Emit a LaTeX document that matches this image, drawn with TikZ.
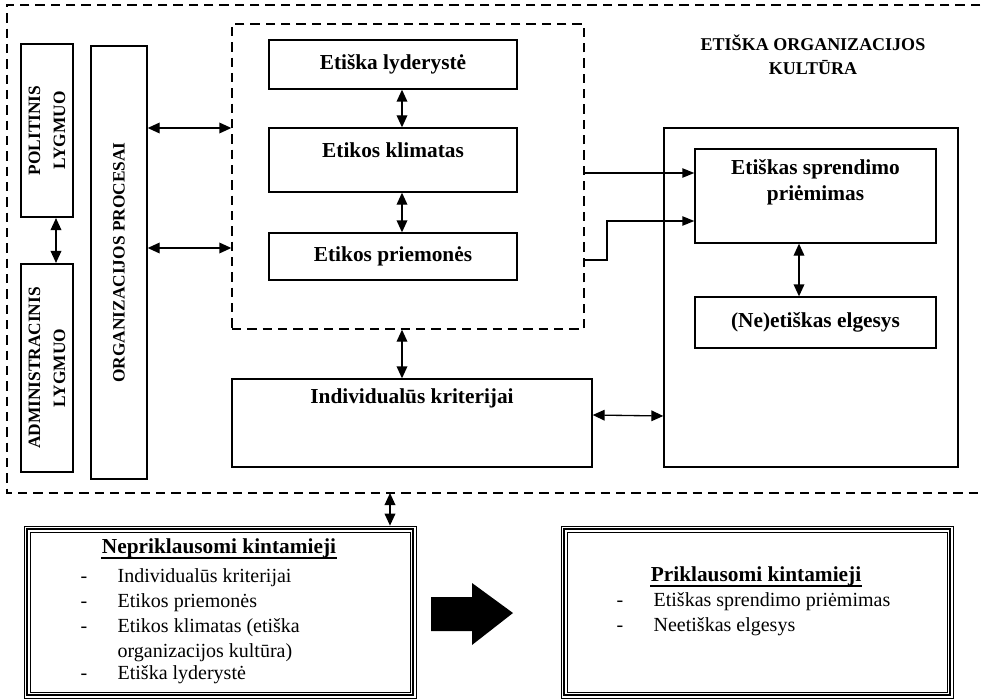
\documentclass[tikz,border=0pt]{standalone}
\usepackage{fontspec}
\setmainfont{Liberation Serif}
\newfontfamily\hdfont{Liberation Serif}
\usetikzlibrary{arrows.meta,fit}

\tikzset{every picture/.style={line width=1pt}}
\tikzset{
  box/.style={draw, inner sep=0pt},
  thickbox/.style={draw, line width=1.6pt, inner sep=0pt},
  dashbox/.style={draw, dash pattern=on 7pt off 4.5pt, inner sep=0pt},
  hd/.style={font=\hdfont\bfseries\fontsize{16}{19.5}\selectfont, align=center, inner sep=0pt},
  caps/.style={font=\hdfont\bfseries\fontsize{13}{18.75}\selectfont, align=center, inner sep=0pt},
  items/.style={font=\fontsize{15}{18.75}\selectfont, align=left, inner sep=0pt, anchor=north west},
  dblarr/.style={{Triangle[length=9pt,width=8pt]}-{Triangle[length=9pt,width=8pt]}},
  onearr/.style={-{Triangle[length=9pt,width=7pt]}},
}

\begin{document}
\begin{tikzpicture}[x=0.75pt,y=0.75pt,yscale=-1,xscale=1]
\useasboundingbox (0,0) rectangle (983,699);

%Outer dashed frame (open on the right)
\draw[dash pattern=on 7pt off 4.5pt] (980,5) -- (7,5) -- (7,493) -- (980,493);
\coordinate (framebot) at (390,493);

%Levels
\node[thickbox, fit={(21,44) (73,217)}] (poli) {};
\node[caps, rotate=90] (politxt) at (poli) {POLITINIS\\LYGMUO};
\node[thickbox, fit={(21,264) (73,472)}] (adm) {};
\node[caps, rotate=90] (admtxt) at (adm) {ADMINISTRACINIS\\LYGMUO};
\node[box, fit={(91,46) (147,479)}] (org) {};
\node[caps, rotate=90] (orgtxt) at (org) {ORGANIZACIJOS PROCESAI};

%Inner dashed group
\node[dashbox, fit={(232,24) (584,329)}] (inner) {};
\node[box, fit={(269,40) (517,89)}] (lyd) {};
\node[hd] (lydtxt) at (lyd) {Etiška lyderystė};
\node[box, fit={(269,128) (517,192)}] (klim) {};
\node[hd] (klimtxt) at (393,150) {Etikos klimatas};
\node[box, fit={(269,233) (517,280)}] (prie) {};
\node[hd] (prietxt) at (prie) {Etikos priemonės};

\node[box, fit={(232,379) (592,467)}] (indiv) {};
\node[hd] (indivtxt) at (412,398) {Individualūs kriterijai};

%Culture
\node[caps, font=\hdfont\bfseries\fontsize{13.5}{18}\selectfont] (title) at (813,55) {ETIŠKA ORGANIZACIJOS\\KULTŪRA};
\node[box, fit={(664,128) (958,467)}] (culture) {};
\node[box, fit={(695,149) (936,243)}] (spr) {};
\node[hd] (sprtxt) at (815.5,182) {Etiškas sprendimo\\priėmimas};
\node[box, fit={(695,297) (936,348)}] (elg) {};
\node[hd] (elgtxt) at (elg) {(Ne)etiškas elgesys};

%Connectors
\draw[dblarr] (poli.south -| 56,0) -- (adm.north -| 56,0);
\draw[dblarr] (org.east |- 0,128) -- (inner.west |- 0,128);
\draw[dblarr] (org.east |- 0,248) -- (inner.west |- 0,248);
\draw[dblarr] (lyd.south -| 402,0) -- (klim.north -| 402,0);
\draw[dblarr] (klim.south -| 402,0) -- (prie.north -| 402,0);
\draw[dblarr] (inner.south -| 402,0) -- (indiv.north -| 402,0);
\draw[onearr] (inner.east |- 0,173) -- (spr.west |- 0,173);
\draw[onearr] (inner.east |- 0,260) -- (607,260) -- (607,221) -- (spr.west |- 0,221);
\draw[dblarr] (spr.south -| 799,0) -- (elg.north -| 799,0);
\draw[dblarr] (indiv.east |- 0,415) -- (culture.west |- 0,416);

%Variables
\node[draw, line width=0.5pt, inner sep=0pt, fit={(24,526) (416,698)}] (indep) {};
\draw[line width=1.5pt] ([shift={(3.5,3.5)}]indep.north west) rectangle ([shift={(-3.5,-3.5)}]indep.south east);
\draw[line width=0.5pt] ([shift={(6.5,6.5)}]indep.north west) rectangle ([shift={(-6.5,-6.5)}]indep.south east);
\node[hd] (indeptitle) at (219,548) {Nepriklausomi kintamieji};
\draw[line width=1.5pt] (indeptitle.south west) -- (indeptitle.south east);
\node[items] (indepitems) at (80,568) {\makebox[27.75pt][l]{-}Individualūs kriterijai\\
  \makebox[27.75pt][l]{-}Etikos priemonės\\
  \makebox[27.75pt][l]{-}Etikos klimatas (etiška\\
  \hspace*{27.75pt}organizacijos kultūra)\\[-2pt]
  \makebox[27.75pt][l]{-}Etiška lyderystė};

\draw[dblarr] (framebot) -- (indep.north -| framebot);

\fill (431,597) -- (472,597) -- (472,583) -- (513,613) -- (472,645) -- (472,631) -- (431,631) -- cycle;

\node[draw, line width=0.5pt, inner sep=0pt, fit={(561,526) (953,698)}] (dep) {};
\draw[line width=1.5pt] ([shift={(3.5,3.5)}]dep.north west) rectangle ([shift={(-3.5,-3.5)}]dep.south east);
\draw[line width=0.5pt] ([shift={(6.5,6.5)}]dep.north west) rectangle ([shift={(-6.5,-6.5)}]dep.south east);
\node[hd] (deptitle) at (756,576) {Priklausomi kintamieji};
\draw[line width=1.5pt] (deptitle.south west) -- (deptitle.south east);
\node[items] (depitems) at (616,592) {\makebox[27.75pt][l]{-}Etiškas sprendimo priėmimas\\
  \makebox[27.75pt][l]{-}Neetiškas elgesys};

\end{tikzpicture}
\end{document}
